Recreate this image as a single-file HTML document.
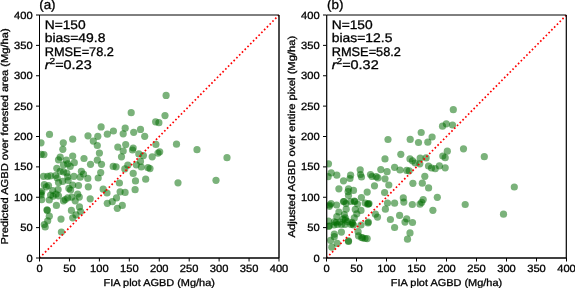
<!DOCTYPE html><html><head><meta charset="utf-8"><style>html,body{margin:0;padding:0;background:#fff;width:575px;height:288px;overflow:hidden}svg{display:block}text{font-family:"Liberation Sans",sans-serif;fill:#000;stroke:#000;stroke-width:0.3px}svg{will-change:transform;text-rendering:geometricPrecision}</style></head><body>
<svg width="575" height="288" viewBox="0 0 575 288">
<rect width="575" height="288" fill="#fff"/>
<clipPath id="c39"><rect x="39.50" y="15.00" width="239.50" height="243.00"/></clipPath>
<g fill="#006b00" fill-opacity="0.52" clip-path="url(#c39)">
<circle cx="166.1" cy="95.4" r="3.60"/>
<circle cx="131.2" cy="112.7" r="3.60"/>
<circle cx="165.0" cy="115.6" r="3.60"/>
<circle cx="155.6" cy="121.8" r="3.60"/>
<circle cx="158.9" cy="122.7" r="3.60"/>
<circle cx="101.1" cy="126.9" r="3.60"/>
<circle cx="125.2" cy="128.2" r="3.60"/>
<circle cx="113.4" cy="131.0" r="3.60"/>
<circle cx="140.5" cy="129.4" r="3.60"/>
<circle cx="133.7" cy="132.3" r="3.60"/>
<circle cx="144.7" cy="136.3" r="3.60"/>
<circle cx="49.5" cy="134.4" r="3.60"/>
<circle cx="107.3" cy="134.2" r="3.60"/>
<circle cx="123.2" cy="133.8" r="3.60"/>
<circle cx="88.0" cy="135.8" r="3.60"/>
<circle cx="97.8" cy="136.3" r="3.60"/>
<circle cx="72.7" cy="139.2" r="3.60"/>
<circle cx="93.3" cy="141.1" r="3.60"/>
<circle cx="63.3" cy="142.8" r="3.60"/>
<circle cx="41.0" cy="142.8" r="3.60"/>
<circle cx="97.3" cy="145.5" r="3.60"/>
<circle cx="117.8" cy="147.1" r="3.60"/>
<circle cx="125.7" cy="144.6" r="3.60"/>
<circle cx="155.9" cy="144.4" r="3.60"/>
<circle cx="176.5" cy="144.2" r="3.60"/>
<circle cx="133.2" cy="148.0" r="3.60"/>
<circle cx="132.5" cy="150.0" r="3.60"/>
<circle cx="62.8" cy="149.3" r="3.60"/>
<circle cx="41.2" cy="154.3" r="3.60"/>
<circle cx="43.9" cy="154.6" r="3.60"/>
<circle cx="72.7" cy="156.0" r="3.60"/>
<circle cx="60.2" cy="157.2" r="3.60"/>
<circle cx="58.5" cy="159.8" r="3.60"/>
<circle cx="66.4" cy="160.2" r="3.60"/>
<circle cx="74.3" cy="162.7" r="3.60"/>
<circle cx="67.7" cy="163.9" r="3.60"/>
<circle cx="63.5" cy="164.8" r="3.60"/>
<circle cx="70.2" cy="166.4" r="3.60"/>
<circle cx="56.8" cy="168.3" r="3.60"/>
<circle cx="84.0" cy="158.5" r="3.60"/>
<circle cx="123.2" cy="151.0" r="3.60"/>
<circle cx="99.4" cy="153.1" r="3.60"/>
<circle cx="121.5" cy="156.8" r="3.60"/>
<circle cx="97.3" cy="160.2" r="3.60"/>
<circle cx="90.5" cy="164.3" r="3.60"/>
<circle cx="101.5" cy="164.3" r="3.60"/>
<circle cx="113.2" cy="166.4" r="3.60"/>
<circle cx="116.1" cy="166.8" r="3.60"/>
<circle cx="127.8" cy="165.2" r="3.60"/>
<circle cx="124.8" cy="168.9" r="3.60"/>
<circle cx="159.7" cy="151.8" r="3.60"/>
<circle cx="158.0" cy="153.1" r="3.60"/>
<circle cx="152.2" cy="156.8" r="3.60"/>
<circle cx="138.8" cy="153.9" r="3.60"/>
<circle cx="143.4" cy="155.6" r="3.60"/>
<circle cx="140.5" cy="161.4" r="3.60"/>
<circle cx="136.3" cy="164.8" r="3.60"/>
<circle cx="141.3" cy="167.0" r="3.60"/>
<circle cx="148.0" cy="167.7" r="3.60"/>
<circle cx="150.0" cy="168.6" r="3.60"/>
<circle cx="197.0" cy="149.7" r="3.60"/>
<circle cx="227.0" cy="157.7" r="3.60"/>
<circle cx="178.0" cy="182.8" r="3.60"/>
<circle cx="216.0" cy="180.3" r="3.60"/>
<circle cx="60.2" cy="171.3" r="3.60"/>
<circle cx="63.5" cy="171.8" r="3.60"/>
<circle cx="66.8" cy="173.0" r="3.60"/>
<circle cx="81.4" cy="171.3" r="3.60"/>
<circle cx="43.5" cy="176.3" r="3.60"/>
<circle cx="47.7" cy="176.3" r="3.60"/>
<circle cx="50.6" cy="175.9" r="3.60"/>
<circle cx="55.6" cy="175.5" r="3.60"/>
<circle cx="57.2" cy="178.0" r="3.60"/>
<circle cx="67.7" cy="176.8" r="3.60"/>
<circle cx="73.9" cy="176.3" r="3.60"/>
<circle cx="80.2" cy="177.2" r="3.60"/>
<circle cx="62.7" cy="181.3" r="3.60"/>
<circle cx="68.1" cy="180.5" r="3.60"/>
<circle cx="58.5" cy="182.6" r="3.60"/>
<circle cx="44.3" cy="184.7" r="3.60"/>
<circle cx="48.5" cy="185.5" r="3.60"/>
<circle cx="46.4" cy="186.8" r="3.60"/>
<circle cx="72.7" cy="185.0" r="3.60"/>
<circle cx="78.5" cy="185.5" r="3.60"/>
<circle cx="68.9" cy="188.4" r="3.60"/>
<circle cx="70.6" cy="190.0" r="3.60"/>
<circle cx="58.1" cy="189.7" r="3.60"/>
<circle cx="41.8" cy="191.3" r="3.60"/>
<circle cx="52.7" cy="190.5" r="3.60"/>
<circle cx="100.7" cy="172.6" r="3.60"/>
<circle cx="98.2" cy="178.0" r="3.60"/>
<circle cx="87.8" cy="178.4" r="3.60"/>
<circle cx="119.4" cy="183.0" r="3.60"/>
<circle cx="88.3" cy="186.8" r="3.60"/>
<circle cx="103.2" cy="189.2" r="3.60"/>
<circle cx="107.0" cy="193.0" r="3.60"/>
<circle cx="120.1" cy="191.8" r="3.60"/>
<circle cx="125.1" cy="192.4" r="3.60"/>
<circle cx="133.2" cy="173.4" r="3.60"/>
<circle cx="135.5" cy="180.9" r="3.60"/>
<circle cx="145.7" cy="179.2" r="3.60"/>
<circle cx="135.1" cy="189.7" r="3.60"/>
<circle cx="41.2" cy="195.0" r="3.60"/>
<circle cx="41.8" cy="199.6" r="3.60"/>
<circle cx="50.6" cy="195.0" r="3.60"/>
<circle cx="53.1" cy="196.2" r="3.60"/>
<circle cx="56.0" cy="194.2" r="3.60"/>
<circle cx="58.5" cy="195.8" r="3.60"/>
<circle cx="49.3" cy="200.0" r="3.60"/>
<circle cx="56.4" cy="205.4" r="3.60"/>
<circle cx="47.0" cy="209.8" r="3.60"/>
<circle cx="47.3" cy="210.4" r="3.60"/>
<circle cx="63.5" cy="200.8" r="3.60"/>
<circle cx="65.2" cy="199.6" r="3.60"/>
<circle cx="67.7" cy="197.9" r="3.60"/>
<circle cx="71.8" cy="197.1" r="3.60"/>
<circle cx="75.2" cy="200.8" r="3.60"/>
<circle cx="77.7" cy="194.2" r="3.60"/>
<circle cx="79.3" cy="197.1" r="3.60"/>
<circle cx="79.5" cy="206.9" r="3.60"/>
<circle cx="71.4" cy="210.4" r="3.60"/>
<circle cx="80.6" cy="211.5" r="3.60"/>
<circle cx="90.2" cy="198.8" r="3.60"/>
<circle cx="116.5" cy="197.9" r="3.60"/>
<circle cx="112.3" cy="201.7" r="3.60"/>
<circle cx="107.3" cy="203.3" r="3.60"/>
<circle cx="122.3" cy="205.4" r="3.60"/>
<circle cx="117.3" cy="208.3" r="3.60"/>
<circle cx="49.3" cy="216.2" r="3.60"/>
<circle cx="47.7" cy="220.8" r="3.60"/>
<circle cx="44.3" cy="224.5" r="3.60"/>
<circle cx="45.2" cy="227.0" r="3.60"/>
<circle cx="61.0" cy="219.1" r="3.60"/>
<circle cx="61.4" cy="232.0" r="3.60"/>
<circle cx="72.7" cy="217.8" r="3.60"/>
<circle cx="76.0" cy="214.9" r="3.60"/>
<circle cx="41.0" cy="193.0" r="3.60"/>
<circle cx="83.5" cy="174.0" r="3.60"/>
</g>
<line x1="39.50" y1="258.00" x2="279.00" y2="15.00" stroke="#ff0000" stroke-width="1.7" stroke-dasharray="1.65 2.3" clip-path="url(#c39)"/>
<g stroke="#000" stroke-width="1" fill="none">
<line x1="39.50" y1="15.00" x2="39.50" y2="258.00" stroke-width="1.00"/>
<line x1="279.00" y1="15.00" x2="279.00" y2="258.00" stroke-width="1.40"/>
<line x1="39.50" y1="15.00" x2="279.00" y2="15.00" stroke-width="1.00"/>
<line x1="39.50" y1="258.00" x2="279.00" y2="258.00" stroke-width="1.50"/>
<line x1="39.50" y1="258.00" x2="39.50" y2="261.50"/>
<line x1="36.00" y1="258.00" x2="39.50" y2="258.00"/>
<line x1="69.44" y1="258.00" x2="69.44" y2="261.50"/>
<line x1="36.00" y1="227.62" x2="39.50" y2="227.62"/>
<line x1="99.38" y1="258.00" x2="99.38" y2="261.50"/>
<line x1="36.00" y1="197.25" x2="39.50" y2="197.25"/>
<line x1="129.31" y1="258.00" x2="129.31" y2="261.50"/>
<line x1="36.00" y1="166.88" x2="39.50" y2="166.88"/>
<line x1="159.25" y1="258.00" x2="159.25" y2="261.50"/>
<line x1="36.00" y1="136.50" x2="39.50" y2="136.50"/>
<line x1="189.19" y1="258.00" x2="189.19" y2="261.50"/>
<line x1="36.00" y1="106.12" x2="39.50" y2="106.12"/>
<line x1="219.12" y1="258.00" x2="219.12" y2="261.50"/>
<line x1="36.00" y1="75.75" x2="39.50" y2="75.75"/>
<line x1="249.06" y1="258.00" x2="249.06" y2="261.50"/>
<line x1="36.00" y1="45.38" x2="39.50" y2="45.38"/>
<line x1="279.00" y1="258.00" x2="279.00" y2="261.50"/>
<line x1="36.00" y1="15.00" x2="39.50" y2="15.00"/>
</g>
<text x="39.50" y="272.30" font-size="10.50" text-anchor="middle" textLength="6.20" lengthAdjust="spacingAndGlyphs">0</text>
<text x="32.70" y="261.60" font-size="10.50" text-anchor="end" textLength="6.20" lengthAdjust="spacingAndGlyphs">0</text>
<text x="69.44" y="272.30" font-size="10.50" text-anchor="middle" textLength="12.40" lengthAdjust="spacingAndGlyphs">50</text>
<text x="32.70" y="231.22" font-size="10.50" text-anchor="end" textLength="12.40" lengthAdjust="spacingAndGlyphs">50</text>
<text x="99.38" y="272.30" font-size="10.50" text-anchor="middle" textLength="18.60" lengthAdjust="spacingAndGlyphs">100</text>
<text x="32.70" y="200.85" font-size="10.50" text-anchor="end" textLength="18.60" lengthAdjust="spacingAndGlyphs">100</text>
<text x="129.31" y="272.30" font-size="10.50" text-anchor="middle" textLength="18.60" lengthAdjust="spacingAndGlyphs">150</text>
<text x="32.70" y="170.47" font-size="10.50" text-anchor="end" textLength="18.60" lengthAdjust="spacingAndGlyphs">150</text>
<text x="159.25" y="272.30" font-size="10.50" text-anchor="middle" textLength="18.60" lengthAdjust="spacingAndGlyphs">200</text>
<text x="32.70" y="140.10" font-size="10.50" text-anchor="end" textLength="18.60" lengthAdjust="spacingAndGlyphs">200</text>
<text x="189.19" y="272.30" font-size="10.50" text-anchor="middle" textLength="18.60" lengthAdjust="spacingAndGlyphs">250</text>
<text x="32.70" y="109.72" font-size="10.50" text-anchor="end" textLength="18.60" lengthAdjust="spacingAndGlyphs">250</text>
<text x="219.12" y="272.30" font-size="10.50" text-anchor="middle" textLength="18.60" lengthAdjust="spacingAndGlyphs">300</text>
<text x="32.70" y="79.35" font-size="10.50" text-anchor="end" textLength="18.60" lengthAdjust="spacingAndGlyphs">300</text>
<text x="249.06" y="272.30" font-size="10.50" text-anchor="middle" textLength="18.60" lengthAdjust="spacingAndGlyphs">350</text>
<text x="32.70" y="48.98" font-size="10.50" text-anchor="end" textLength="18.60" lengthAdjust="spacingAndGlyphs">350</text>
<text x="279.00" y="272.30" font-size="10.50" text-anchor="middle" textLength="18.60" lengthAdjust="spacingAndGlyphs">400</text>
<text x="32.70" y="18.60" font-size="10.50" text-anchor="end" textLength="18.60" lengthAdjust="spacingAndGlyphs">400</text>
<text x="159.25" y="285.80" font-size="10.00" text-anchor="middle" textLength="111.3" lengthAdjust="spacingAndGlyphs">FIA plot AGBD (Mg/ha)</text>
<text transform="translate(7.65 136.35) rotate(-90)" font-size="10.00" text-anchor="middle" textLength="216.1" lengthAdjust="spacingAndGlyphs">Predicted AGBD over forested area (Mg/ha)</text>
<text x="39.20" y="9.20" font-size="13.00" textLength="16.40" lengthAdjust="spacingAndGlyphs">(a)</text>
<text x="44.70" y="28.80" font-size="12.50" textLength="41.0" lengthAdjust="spacingAndGlyphs">N=150</text>
<text x="44.70" y="42.25" font-size="12.50" textLength="60.7" lengthAdjust="spacingAndGlyphs">bias=49.8</text>
<text x="44.70" y="55.70" font-size="12.50" textLength="69.3" lengthAdjust="spacingAndGlyphs">RMSE=78.2</text>
<text x="44.70" y="69.15" font-size="12.50" textLength="47.0" lengthAdjust="spacingAndGlyphs"><tspan font-style="italic">r</tspan><tspan font-size="70%" dy="-5">2</tspan><tspan dy="5">=0.23</tspan></text>
<clipPath id="c326"><rect x="326.50" y="15.00" width="240.00" height="243.00"/></clipPath>
<g fill="#006b00" fill-opacity="0.52" clip-path="url(#c326)">
<circle cx="453.3" cy="109.7" r="3.60"/>
<circle cx="442.5" cy="126.2" r="3.60"/>
<circle cx="446.3" cy="123.8" r="3.60"/>
<circle cx="452.5" cy="125.0" r="3.60"/>
<circle cx="421.2" cy="132.5" r="3.60"/>
<circle cx="432.1" cy="137.0" r="3.60"/>
<circle cx="388.0" cy="139.5" r="3.60"/>
<circle cx="410.2" cy="139.4" r="3.60"/>
<circle cx="418.5" cy="142.5" r="3.60"/>
<circle cx="427.8" cy="142.2" r="3.60"/>
<circle cx="447.3" cy="151.2" r="3.60"/>
<circle cx="442.8" cy="156.0" r="3.60"/>
<circle cx="445.2" cy="157.7" r="3.60"/>
<circle cx="420.2" cy="158.1" r="3.60"/>
<circle cx="426.1" cy="157.9" r="3.60"/>
<circle cx="463.5" cy="148.8" r="3.60"/>
<circle cx="484.3" cy="156.7" r="3.60"/>
<circle cx="400.8" cy="154.3" r="3.60"/>
<circle cx="385.0" cy="158.9" r="3.60"/>
<circle cx="410.0" cy="158.9" r="3.60"/>
<circle cx="412.5" cy="160.8" r="3.60"/>
<circle cx="415.2" cy="163.0" r="3.60"/>
<circle cx="419.8" cy="163.8" r="3.60"/>
<circle cx="428.5" cy="166.0" r="3.60"/>
<circle cx="431.5" cy="168.0" r="3.60"/>
<circle cx="435.2" cy="168.7" r="3.60"/>
<circle cx="439.4" cy="165.9" r="3.60"/>
<circle cx="445.2" cy="167.8" r="3.60"/>
<circle cx="424.8" cy="176.3" r="3.60"/>
<circle cx="422.3" cy="183.2" r="3.60"/>
<circle cx="328.5" cy="163.8" r="3.60"/>
<circle cx="331.2" cy="172.9" r="3.60"/>
<circle cx="328.1" cy="176.7" r="3.60"/>
<circle cx="336.8" cy="175.2" r="3.60"/>
<circle cx="343.5" cy="180.8" r="3.60"/>
<circle cx="350.6" cy="175.2" r="3.60"/>
<circle cx="350.0" cy="178.5" r="3.60"/>
<circle cx="360.2" cy="169.8" r="3.60"/>
<circle cx="360.5" cy="174.5" r="3.60"/>
<circle cx="361.5" cy="177.0" r="3.60"/>
<circle cx="370.5" cy="174.5" r="3.60"/>
<circle cx="372.0" cy="176.5" r="3.60"/>
<circle cx="380.8" cy="169.6" r="3.60"/>
<circle cx="387.1" cy="171.7" r="3.60"/>
<circle cx="394.6" cy="167.3" r="3.60"/>
<circle cx="400.0" cy="170.0" r="3.60"/>
<circle cx="406.7" cy="170.4" r="3.60"/>
<circle cx="409.2" cy="170.8" r="3.60"/>
<circle cx="376.2" cy="176.7" r="3.60"/>
<circle cx="377.9" cy="177.9" r="3.60"/>
<circle cx="385.0" cy="178.8" r="3.60"/>
<circle cx="374.5" cy="185.8" r="3.60"/>
<circle cx="388.8" cy="185.0" r="3.60"/>
<circle cx="412.9" cy="183.3" r="3.60"/>
<circle cx="338.9" cy="188.8" r="3.60"/>
<circle cx="348.5" cy="188.8" r="3.60"/>
<circle cx="348.1" cy="191.7" r="3.60"/>
<circle cx="353.5" cy="190.4" r="3.60"/>
<circle cx="348.5" cy="195.5" r="3.60"/>
<circle cx="367.2" cy="192.1" r="3.60"/>
<circle cx="361.4" cy="197.5" r="3.60"/>
<circle cx="384.6" cy="192.5" r="3.60"/>
<circle cx="403.3" cy="197.9" r="3.60"/>
<circle cx="403.8" cy="202.1" r="3.60"/>
<circle cx="387.5" cy="203.0" r="3.60"/>
<circle cx="394.6" cy="203.2" r="3.60"/>
<circle cx="412.3" cy="204.5" r="3.60"/>
<circle cx="428.6" cy="187.9" r="3.60"/>
<circle cx="437.3" cy="197.3" r="3.60"/>
<circle cx="423.2" cy="199.6" r="3.60"/>
<circle cx="421.7" cy="202.3" r="3.60"/>
<circle cx="420.0" cy="204.2" r="3.60"/>
<circle cx="432.9" cy="210.3" r="3.60"/>
<circle cx="514.3" cy="187.0" r="3.60"/>
<circle cx="465.2" cy="204.5" r="3.60"/>
<circle cx="503.5" cy="214.2" r="3.60"/>
<circle cx="331.0" cy="203.5" r="3.60"/>
<circle cx="329.3" cy="206.3" r="3.60"/>
<circle cx="336.6" cy="205.0" r="3.60"/>
<circle cx="343.5" cy="201.5" r="3.60"/>
<circle cx="346.0" cy="203.5" r="3.60"/>
<circle cx="350.6" cy="201.5" r="3.60"/>
<circle cx="354.3" cy="201.2" r="3.60"/>
<circle cx="357.5" cy="204.0" r="3.60"/>
<circle cx="365.2" cy="203.0" r="3.60"/>
<circle cx="367.7" cy="204.2" r="3.60"/>
<circle cx="346.2" cy="209.2" r="3.60"/>
<circle cx="355.3" cy="209.4" r="3.60"/>
<circle cx="361.0" cy="210.4" r="3.60"/>
<circle cx="338.9" cy="212.0" r="3.60"/>
<circle cx="336.8" cy="216.7" r="3.60"/>
<circle cx="344.3" cy="214.6" r="3.60"/>
<circle cx="345.2" cy="217.9" r="3.60"/>
<circle cx="356.8" cy="213.8" r="3.60"/>
<circle cx="354.3" cy="217.9" r="3.60"/>
<circle cx="328.5" cy="221.0" r="3.60"/>
<circle cx="334.3" cy="221.8" r="3.60"/>
<circle cx="340.0" cy="222.0" r="3.60"/>
<circle cx="347.5" cy="221.7" r="3.60"/>
<circle cx="352.0" cy="222.3" r="3.60"/>
<circle cx="353.5" cy="225.0" r="3.60"/>
<circle cx="368.3" cy="222.0" r="3.60"/>
<circle cx="329.3" cy="225.8" r="3.60"/>
<circle cx="361.0" cy="225.0" r="3.60"/>
<circle cx="341.4" cy="232.1" r="3.60"/>
<circle cx="334.3" cy="234.2" r="3.60"/>
<circle cx="334.3" cy="236.7" r="3.60"/>
<circle cx="330.6" cy="240.3" r="3.60"/>
<circle cx="358.1" cy="231.7" r="3.60"/>
<circle cx="358.5" cy="235.8" r="3.60"/>
<circle cx="362.7" cy="237.8" r="3.60"/>
<circle cx="367.2" cy="238.6" r="3.60"/>
<circle cx="348.5" cy="240.8" r="3.60"/>
<circle cx="348.5" cy="241.5" r="3.60"/>
<circle cx="337.2" cy="243.4" r="3.60"/>
<circle cx="331.8" cy="247.2" r="3.60"/>
<circle cx="385.4" cy="209.2" r="3.60"/>
<circle cx="375.4" cy="214.2" r="3.60"/>
<circle cx="377.5" cy="217.1" r="3.60"/>
<circle cx="390.4" cy="219.5" r="3.60"/>
<circle cx="399.6" cy="215.4" r="3.60"/>
<circle cx="406.7" cy="218.8" r="3.60"/>
<circle cx="405.0" cy="222.1" r="3.60"/>
<circle cx="412.5" cy="222.5" r="3.60"/>
<circle cx="394.6" cy="227.5" r="3.60"/>
<circle cx="410.0" cy="232.9" r="3.60"/>
<circle cx="407.5" cy="239.2" r="3.60"/>
<circle cx="352.5" cy="223.5" r="3.60"/>
<circle cx="351.0" cy="224.5" r="3.60"/>
<circle cx="336.0" cy="222.5" r="3.60"/>
<circle cx="345.5" cy="220.0" r="3.60"/>
<circle cx="328.5" cy="226.5" r="3.60"/>
<circle cx="361.5" cy="237.5" r="3.60"/>
<circle cx="365.0" cy="238.5" r="3.60"/>
<circle cx="368.0" cy="223.0" r="3.60"/>
<circle cx="343.0" cy="219.0" r="3.60"/>
<circle cx="368.5" cy="204.0" r="3.60"/>
<circle cx="369.0" cy="203.5" r="3.60"/>
<circle cx="337.5" cy="224.5" r="3.60"/>
<circle cx="341.5" cy="224.5" r="3.60"/>
<circle cx="345.0" cy="224.5" r="3.60"/>
<circle cx="334.0" cy="225.0" r="3.60"/>
<circle cx="344.0" cy="201.5" r="3.60"/>
<circle cx="354.8" cy="201.5" r="3.60"/>
<circle cx="329.5" cy="205.0" r="3.60"/>
</g>
<line x1="326.50" y1="258.00" x2="566.50" y2="15.00" stroke="#ff0000" stroke-width="1.7" stroke-dasharray="1.65 2.3" clip-path="url(#c326)"/>
<g stroke="#000" stroke-width="1" fill="none">
<line x1="326.70" y1="15.00" x2="326.70" y2="257.90" stroke-width="1.20"/>
<line x1="566.30" y1="15.00" x2="566.30" y2="257.90" stroke-width="1.20"/>
<line x1="326.70" y1="15.00" x2="566.30" y2="15.00" stroke-width="1.00"/>
<line x1="326.70" y1="257.90" x2="566.30" y2="257.90" stroke-width="1.50"/>
<line x1="326.50" y1="258.00" x2="326.50" y2="261.50"/>
<line x1="323.00" y1="258.00" x2="326.50" y2="258.00"/>
<line x1="356.50" y1="258.00" x2="356.50" y2="261.50"/>
<line x1="323.00" y1="227.62" x2="326.50" y2="227.62"/>
<line x1="386.50" y1="258.00" x2="386.50" y2="261.50"/>
<line x1="323.00" y1="197.25" x2="326.50" y2="197.25"/>
<line x1="416.50" y1="258.00" x2="416.50" y2="261.50"/>
<line x1="323.00" y1="166.88" x2="326.50" y2="166.88"/>
<line x1="446.50" y1="258.00" x2="446.50" y2="261.50"/>
<line x1="323.00" y1="136.50" x2="326.50" y2="136.50"/>
<line x1="476.50" y1="258.00" x2="476.50" y2="261.50"/>
<line x1="323.00" y1="106.12" x2="326.50" y2="106.12"/>
<line x1="506.50" y1="258.00" x2="506.50" y2="261.50"/>
<line x1="323.00" y1="75.75" x2="326.50" y2="75.75"/>
<line x1="536.50" y1="258.00" x2="536.50" y2="261.50"/>
<line x1="323.00" y1="45.38" x2="326.50" y2="45.38"/>
<line x1="566.50" y1="258.00" x2="566.50" y2="261.50"/>
<line x1="323.00" y1="15.00" x2="326.50" y2="15.00"/>
</g>
<text x="326.50" y="272.30" font-size="10.50" text-anchor="middle" textLength="6.20" lengthAdjust="spacingAndGlyphs">0</text>
<text x="319.70" y="261.60" font-size="10.50" text-anchor="end" textLength="6.20" lengthAdjust="spacingAndGlyphs">0</text>
<text x="356.50" y="272.30" font-size="10.50" text-anchor="middle" textLength="12.40" lengthAdjust="spacingAndGlyphs">50</text>
<text x="319.70" y="231.22" font-size="10.50" text-anchor="end" textLength="12.40" lengthAdjust="spacingAndGlyphs">50</text>
<text x="386.50" y="272.30" font-size="10.50" text-anchor="middle" textLength="18.60" lengthAdjust="spacingAndGlyphs">100</text>
<text x="319.70" y="200.85" font-size="10.50" text-anchor="end" textLength="18.60" lengthAdjust="spacingAndGlyphs">100</text>
<text x="416.50" y="272.30" font-size="10.50" text-anchor="middle" textLength="18.60" lengthAdjust="spacingAndGlyphs">150</text>
<text x="319.70" y="170.47" font-size="10.50" text-anchor="end" textLength="18.60" lengthAdjust="spacingAndGlyphs">150</text>
<text x="446.50" y="272.30" font-size="10.50" text-anchor="middle" textLength="18.60" lengthAdjust="spacingAndGlyphs">200</text>
<text x="319.70" y="140.10" font-size="10.50" text-anchor="end" textLength="18.60" lengthAdjust="spacingAndGlyphs">200</text>
<text x="476.50" y="272.30" font-size="10.50" text-anchor="middle" textLength="18.60" lengthAdjust="spacingAndGlyphs">250</text>
<text x="319.70" y="109.72" font-size="10.50" text-anchor="end" textLength="18.60" lengthAdjust="spacingAndGlyphs">250</text>
<text x="506.50" y="272.30" font-size="10.50" text-anchor="middle" textLength="18.60" lengthAdjust="spacingAndGlyphs">300</text>
<text x="319.70" y="79.35" font-size="10.50" text-anchor="end" textLength="18.60" lengthAdjust="spacingAndGlyphs">300</text>
<text x="536.50" y="272.30" font-size="10.50" text-anchor="middle" textLength="18.60" lengthAdjust="spacingAndGlyphs">350</text>
<text x="319.70" y="48.98" font-size="10.50" text-anchor="end" textLength="18.60" lengthAdjust="spacingAndGlyphs">350</text>
<text x="566.50" y="272.30" font-size="10.50" text-anchor="middle" textLength="18.60" lengthAdjust="spacingAndGlyphs">400</text>
<text x="319.70" y="18.60" font-size="10.50" text-anchor="end" textLength="18.60" lengthAdjust="spacingAndGlyphs">400</text>
<text x="446.50" y="285.80" font-size="10.00" text-anchor="middle" textLength="111.3" lengthAdjust="spacingAndGlyphs">FIA plot AGBD (Mg/ha)</text>
<text transform="translate(295.10 136.65) rotate(-90)" font-size="10.00" text-anchor="middle" textLength="201.8" lengthAdjust="spacingAndGlyphs">Adjusted AGBD over entire pixel (Mg/ha)</text>
<text x="327.00" y="9.20" font-size="13.00" textLength="16.40" lengthAdjust="spacingAndGlyphs">(b)</text>
<text x="331.70" y="28.80" font-size="12.50" textLength="41.0" lengthAdjust="spacingAndGlyphs">N=150</text>
<text x="331.70" y="42.25" font-size="12.50" textLength="60.7" lengthAdjust="spacingAndGlyphs">bias=12.5</text>
<text x="331.70" y="55.70" font-size="12.50" textLength="69.3" lengthAdjust="spacingAndGlyphs">RMSE=58.2</text>
<text x="331.70" y="69.15" font-size="12.50" textLength="47.0" lengthAdjust="spacingAndGlyphs"><tspan font-style="italic">r</tspan><tspan font-size="70%" dy="-5">2</tspan><tspan dy="5">=0.32</tspan></text>
</svg></body></html>
